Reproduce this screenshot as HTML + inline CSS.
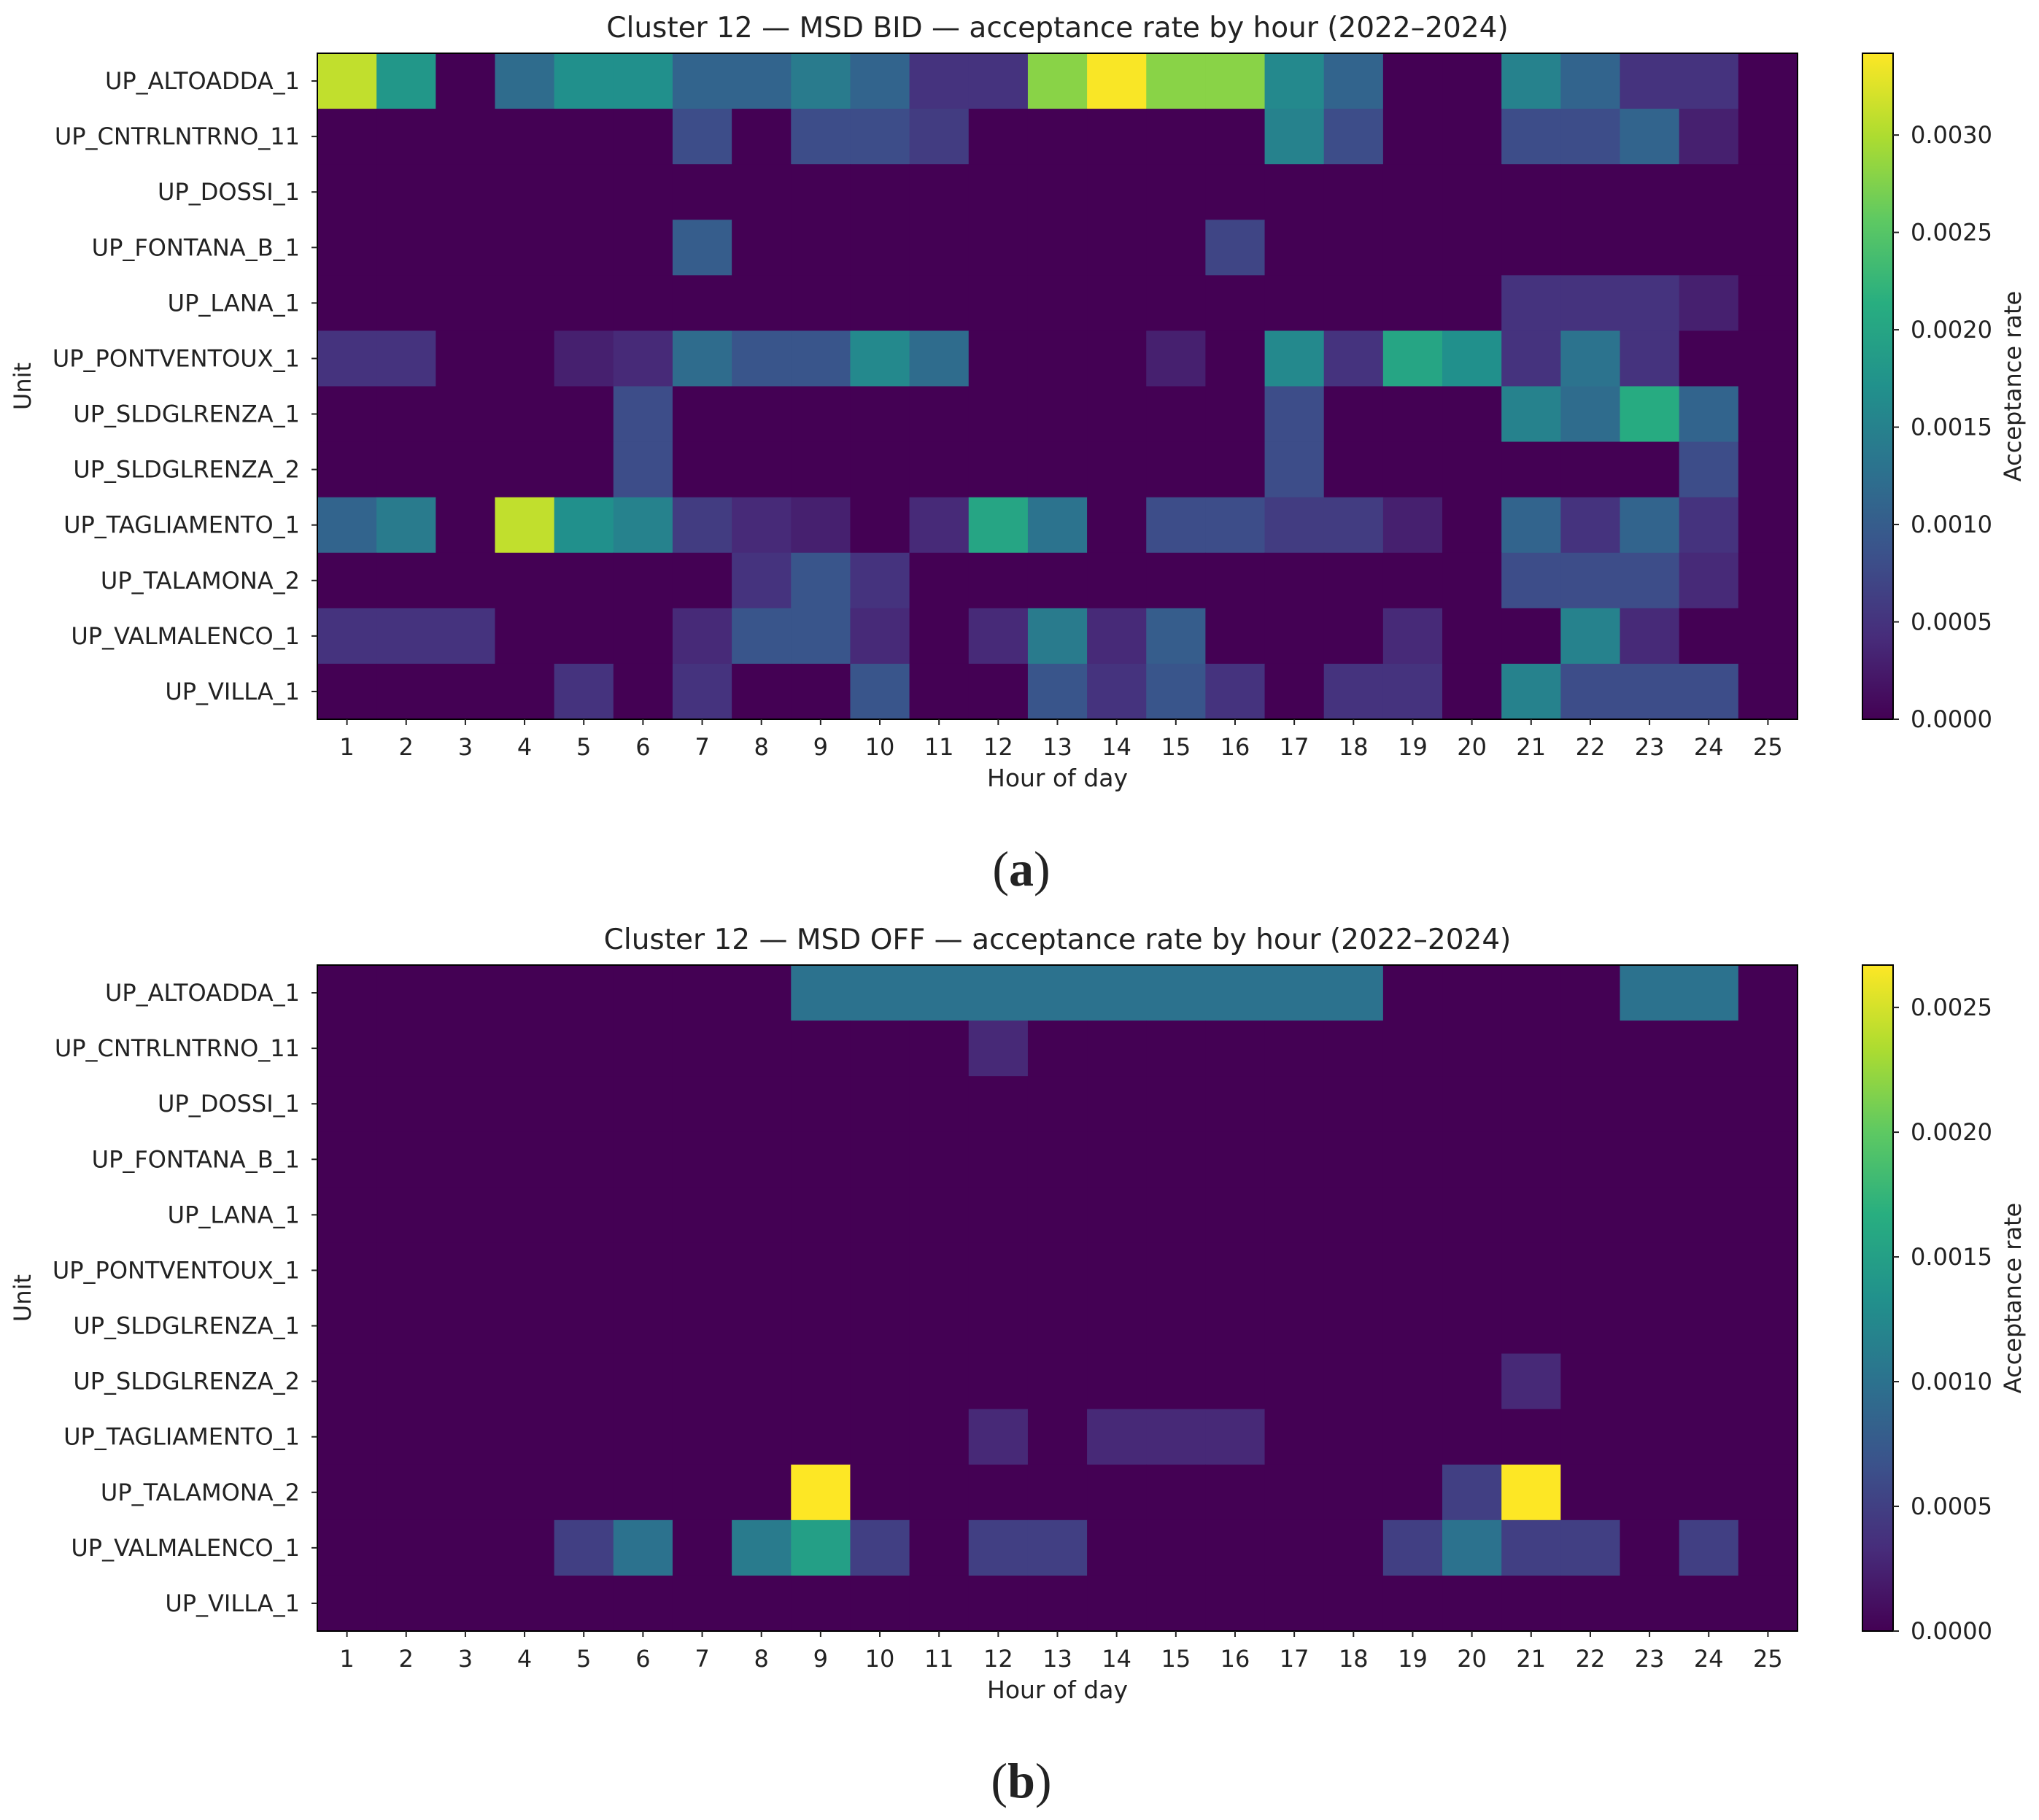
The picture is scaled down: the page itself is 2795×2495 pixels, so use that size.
<!DOCTYPE html>
<html><head><meta charset="utf-8"><style>
html,body{margin:0;padding:0;background:#fff;}
svg{display:block;}
text{font-family:"DejaVu Sans","Liberation Sans",sans-serif;fill:#222;}
</style></head><body>
<svg id="chart" width="2795" height="2495" viewBox="0 0 2795 2495" xmlns="http://www.w3.org/2000/svg">
<defs>
<linearGradient id="vir" x1="0" y1="1" x2="0" y2="0">
<stop offset="0" stop-color="#440154"/><stop offset="0.125" stop-color="#472d7b"/><stop offset="0.25" stop-color="#3b528b"/><stop offset="0.375" stop-color="#2c728e"/><stop offset="0.5" stop-color="#21918c"/><stop offset="0.625" stop-color="#28ae80"/><stop offset="0.75" stop-color="#5ec962"/><stop offset="0.875" stop-color="#addc30"/><stop offset="1" stop-color="#fde725"/>
</linearGradient>
</defs>
</svg>
<script>
// Shared categories
const units = ["UP_ALTOADDA_1","UP_CNTRLNTRNO_11","UP_DOSSI_1","UP_FONTANA_B_1","UP_LANA_1","UP_PONTVENTOUX_1","UP_SLDGLRENZA_1","UP_SLDGLRENZA_2","UP_TAGLIAMENTO_1","UP_TALAMONA_2","UP_VALMALENCO_1","UP_VILLA_1"];
const hours = [1,2,3,4,5,6,7,8,9,10,11,12,13,14,15,16,17,18,19,20,21,22,23,24,25];
// Panel (a) MSD BID values (x1e-4), rows = units, cols = hours
const bidValues = [
[31,18,0,12,17,17,11,11,14,11,5,5,28,34,28,28,16,11,0,0,15,11,5,5,0],
[0,0,0,0,0,0,8,0,8,8,6,0,0,0,0,0,15,8,0,0,8,8,11,3,0],
[0,0,0,0,0,0,0,0,0,0,0,0,0,0,0,0,0,0,0,0,0,0,0,0,0],
[0,0,0,0,0,0,10,0,0,0,0,0,0,0,0,7,0,0,0,0,0,0,0,0,0],
[0,0,0,0,0,0,0,0,0,0,0,0,0,0,0,0,0,0,0,0,5,5,5,3,0],
[5,5,0,0,3,4,12,9,9,16,12,0,0,0,3,0,16,5,20,17,5,13,5,0,0],
[0,0,0,0,0,8,0,0,0,0,0,0,0,0,0,0,8,0,0,0,15,12,21,11,0],
[0,0,0,0,0,8,0,0,0,0,0,0,0,0,0,0,8,0,0,0,0,0,0,8,0],
[11,14,0,31,17,15,6,4,3,0,4,20,13,0,8,8,6,6,3,0,11,5,11,5,0],
[0,0,0,0,0,0,0,5,9,5,0,0,0,0,0,0,0,0,0,0,8,8,8,4,0],
[5,5,5,0,0,0,4,9,9,4,0,4,14,4,10,0,0,0,4,0,0,15,4,0,0],
[0,0,0,0,5,0,5,0,0,9,0,0,9,5,9,5,0,5,5,0,15,8,8,8,0]
];
const bidMax = 34.2;
const bidTicks = [0,5,10,15,20,25,30];
const bidTickLabels = ["0.0000","0.0005","0.0010","0.0015","0.0020","0.0025","0.0030"];
// Panel (b) MSD OFF values (x1e-4)
const offValues = [
[0,0,0,0,0,0,0,0,10,10,10,10,10,10,10,10,10,10,0,0,0,0,10,10,0],
[0,0,0,0,0,0,0,0,0,0,0,3,0,0,0,0,0,0,0,0,0,0,0,0,0],
[0,0,0,0,0,0,0,0,0,0,0,0,0,0,0,0,0,0,0,0,0,0,0,0,0],
[0,0,0,0,0,0,0,0,0,0,0,0,0,0,0,0,0,0,0,0,0,0,0,0,0],
[0,0,0,0,0,0,0,0,0,0,0,0,0,0,0,0,0,0,0,0,0,0,0,0,0],
[0,0,0,0,0,0,0,0,0,0,0,0,0,0,0,0,0,0,0,0,0,0,0,0,0],
[0,0,0,0,0,0,0,0,0,0,0,0,0,0,0,0,0,0,0,0,0,0,0,0,0],
[0,0,0,0,0,0,0,0,0,0,0,0,0,0,0,0,0,0,0,0,3,0,0,0,0],
[0,0,0,0,0,0,0,0,0,0,0,3,0,3,3,3,0,0,0,0,0,0,0,0,0],
[0,0,0,0,0,0,0,0,26.7,0,0,0,0,0,0,0,0,0,0,5,26.7,0,0,0,0],
[0,0,0,0,5,10,0,11,15,5,0,5,5,0,0,0,0,0,5,10,5,5,0,5,0],
[0,0,0,0,0,0,0,0,0,0,0,0,0,0,0,0,0,0,0,0,0,0,0,0,0]
];
const offMax = 26.7;
const offTicks = [0,5,10,15,20,25];
const offTickLabels = ["0.0000","0.0005","0.0010","0.0015","0.0020","0.0025"];

const NS="http://www.w3.org/2000/svg";
const svg=document.getElementById('chart');
const stops=[[68,1,84],[71,45,123],[59,82,139],[44,114,142],[33,145,140],[40,174,128],[94,201,98],[173,220,48],[253,231,37]];
function viridis(t){t=Math.max(0,Math.min(1,t));const p=t*8;const i=Math.min(7,Math.floor(p));const f=p-i;
const a=stops[i],b=stops[i+1];return `rgb(${Math.round(a[0]+(b[0]-a[0])*f)},${Math.round(a[1]+(b[1]-a[1])*f)},${Math.round(a[2]+(b[2]-a[2])*f)})`;}
function el(tag,attrs,parent){const e=document.createElementNS(NS,tag);for(const k in attrs)e.setAttribute(k,attrs[k]);(parent||svg).appendChild(e);return e;}

const X0=435,X1=2464,PH=913,CB0=2553,CB1=2595;
function drawPanel(oy,values,vmax,ticks,tickLabels,title,letter,key){
  const g=el('g',{});
  
  
  const Y0=73+oy,Y1=Y0+PH;
  const cw=(X1-X0)/hours.length, rh=(Y1-Y0)/units.length;
  const xPos=h=>X0+(hours.indexOf(h)+0.5)*cw;
  const yPos=u=>Y0+(units.indexOf(u)+0.5)*rh;
  units.forEach((u,r)=>{hours.forEach((h,c)=>{
    const rc=el('rect',{x:(xPos(h)-cw/2).toFixed(2),y:(yPos(u)-rh/2).toFixed(2),width:(cw+0.6).toFixed(2),height:(rh+0.6).toFixed(2),fill:viridis(values[r][c]/vmax)},g);
    
    
  });});
  const fr=el('rect',{x:X0,y:Y0,width:X1-X0,height:Y1-Y0,fill:'none',stroke:'#000','stroke-width':2},g);
  
  
  units.forEach(u=>{
    el('line',{x1:X0-8,x2:X0,y1:yPos(u),y2:yPos(u),stroke:'#222','stroke-width':2},g);
    const t=el('text',{x:X0-24,y:yPos(u)+11,'text-anchor':'end','font-size':32},g);t.textContent=u;
    
    
  });
  hours.forEach(h=>{
    el('line',{x1:xPos(h),x2:xPos(h),y1:Y1,y2:Y1+8,stroke:'#222','stroke-width':2},g);
    const t=el('text',{x:xPos(h),y:Y1+49,'text-anchor':'middle','font-size':32},g);t.textContent=h;
    
    
  });
  const xt=el('text',{x:(X0+X1)/2,y:Y1+92,'text-anchor':'middle','font-size':33},g);xt.textContent='Hour of day';
  
  
  const yt=el('text',{x:42,y:(Y0+Y1)/2,'text-anchor':'middle','font-size':32,transform:`rotate(-90 42 ${(Y0+Y1)/2})`},g);yt.textContent='Unit';
  
  
  const tt=el('text',{x:(X0+X1)/2,y:Y0-22,'text-anchor':'middle','font-size':39},g);tt.textContent=title;
  
  
  const cb=el('rect',{x:CB0,y:Y0,width:CB1-CB0,height:PH,fill:'url(#vir)',stroke:'#000','stroke-width':2},g);
  
  
  const cy=v=>Y1-v/vmax*PH;
  ticks.forEach((v,i)=>{
    el('line',{x1:CB1,x2:CB1+8,y1:cy(v),y2:cy(v),stroke:'#222','stroke-width':2},g);
    const t=el('text',{x:CB1+24,y:cy(v)+11,'font-size':32},g);t.textContent=tickLabels[i];
    
    
  });
  const ct=el('text',{x:2770,y:(Y0+Y1)/2,'text-anchor':'middle','font-size':32,transform:`rotate(-90 2770 ${(Y0+Y1)/2})`},g);ct.textContent='Acceptance rate';
  
  
  const lt=el('text',{x:1400,y:1214+oy,'text-anchor':'middle','font-size':68,style:'font-family:"Liberation Serif",serif'},g);
  lt.innerHTML='(<tspan font-weight="bold">'+letter+'</tspan>)';
  
  
}
drawPanel(0,bidValues,bidMax,bidTicks,bidTickLabels,'Cluster 12 \u2014 MSD BID \u2014 acceptance rate by hour (2022\u20132024)','a','bid');
drawPanel(1250,offValues,offMax,offTicks,offTickLabels,'Cluster 12 \u2014 MSD OFF \u2014 acceptance rate by hour (2022\u20132024)','b','off');
</script>
</body></html>
